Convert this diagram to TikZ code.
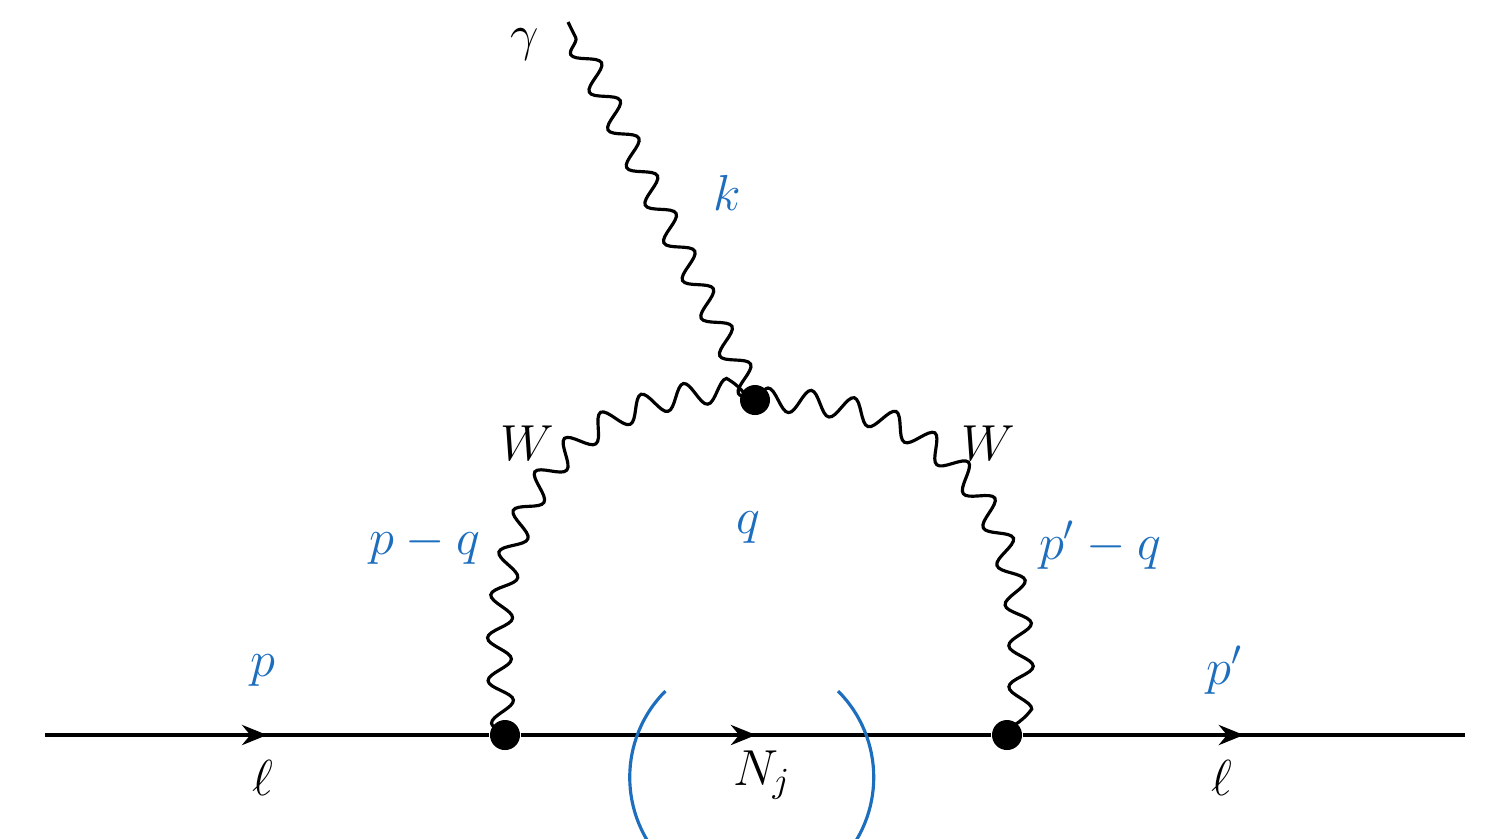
\documentclass[tikz,border=0pt]{standalone}
\usepackage{xcolor}
\usetikzlibrary{decorations.pathmorphing,decorations.markings,arrows.meta}
\definecolor{momblue}{RGB}{30,110,190}
\begin{document}
\begin{tikzpicture}[x=0.01cm,y=-0.01cm]
        % Define styles
        \tikzset{
            vertex/.style={circle, fill=black, inner sep=0pt, minimum size=0.3cm},
            fermion/.style={line width=1.2pt, postaction={decorate},
                decoration={markings, mark=at position 0.5 with {\arrow{Stealth[length=0.25cm,width=0.2cm]}}}},
            boson/.style={line width=0.9pt, decorate,
                decoration={snake, amplitude=0.12cm, segment length=0.42cm}},
            mom/.style={text=momblue, font=\Large},
            lbl/.style={font=\Large}
        }
        \useasboundingbox (0,0) rectangle (1500,838);

        % Nodes
        \coordinate (l_in) at (45,735);
        \coordinate (l_out) at (1465,735);
        \coordinate (gamma_end) at (568,22);
        \node[vertex] (vertex_left) at (505,735) {};
        \node[vertex] (vertex_right) at (1007,735) {};
        \node[vertex] (vertex_top) at (755,400) {};

        % Lines
        \draw[fermion] (l_in) -- (vertex_left);
        \draw[fermion] (vertex_left) -- (vertex_right);
        \draw[fermion] (vertex_right) -- (l_out);
        \draw[boson] (vertex_left.center) .. controls (480,520) and (560,400) .. (vertex_top.center);
        \draw[boson] (vertex_top.center) .. controls (950,400) and (1030,520) .. (vertex_right.center);
        \draw[boson] (vertex_top.center) -- (gamma_end);

        % Loop momentum
        \draw[momblue, line width=0.9pt, postaction={decorate},
            decoration={markings, mark=at position 0.5 with {\arrow{Stealth[length=0.25cm,width=0.2cm]}}}]
            (838,691) arc[start angle=-45, end angle=225, radius=122];

        % Labels
        \node[lbl] (label_gamma) at (525,45) {$\gamma$};
        \node[mom] (label_k) at (727,193) {$k$};
        \node[lbl] (label_w1) at (527,443) {$W$};
        \node[lbl] (label_w2) at (988,443) {$W$};
        \node[mom] (label_pq) at (425,545) {$p-q$};
        \node[mom] (label_ppq) at (1100,545) {$p'-q$};
        \node[mom] (label_q) at (748,527) {$q$};
        \node[mom] (label_p) at (263,670) {$p$};
        \node[mom] (label_pp) at (1225,670) {$p'$};
        \node[lbl] (label_l1) at (263,778) {$\ell$};
        \node[lbl] (label_n) at (762,775) {$N_j$};
        \node[lbl] (label_l2) at (1222,778) {$\ell$};
    \end{tikzpicture}
\end{document}
